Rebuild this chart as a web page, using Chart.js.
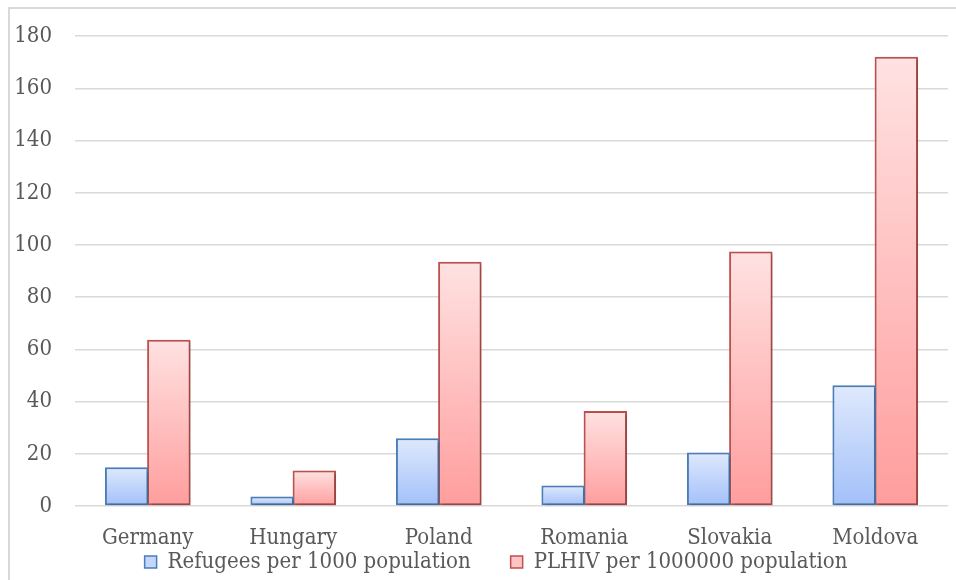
<!doctype html>
<html lang="en">
<head>
  <meta charset="utf-8" />
  <title>Refugees and PLHIV</title>
  <style>
    *{box-sizing:border-box}
    body{margin:0; background:#fff; width:956px; height:580px; overflow:hidden; position:relative}
    .frame{position:absolute; left:8px; top:7px; width:980px; height:600px; border:2px solid #d9d9d9}
    #c{position:absolute; left:0; top:0}
  </style>
  <script src="https://cdn.jsdelivr.net/npm/chart.js@4.4.1/dist/chart.umd.min.js"></script>
</head>
<body>
  <div class="frame"></div>
  <canvas id="c" width="956" height="580"></canvas>

<script>
const countries = ["Germany", "Hungary", "Poland", "Romania", "Slovakia", "Moldova"];
const refugees = [14.8, 3.6, 26.0, 7.9, 20.5, 46.3];
const plhiv = [63.7, 13.6, 93.6, 36.4, 97.5, 172.1];
const yTicks = [0, 20, 40, 60, 80, 100, 120, 140, 160, 180];

const FONT = "'DejaVu Serif Condensed', 'DejaVu Serif', serif";
const TEXT = "#595959";
const SIZE = 22;

// vertical gradient per bar, light at the top, darker at the base
const barFill = (top, bottom) => (ctx) => {
  const chart = ctx.chart, y = chart.scales.y;
  if (!y || ctx.raw == null) return bottom;
  const y0 = y.getPixelForValue(ctx.raw), y1 = y.getPixelForValue(0);
  if (!isFinite(y0) || !isFinite(y1) || y0 === y1) return bottom;
  const g = chart.ctx.createLinearGradient(0, y0, 0, y1);
  g.addColorStop(0, top); g.addColorStop(1, bottom);
  return g;
};

const shadow = {
  id: "shadow",
  beforeDatasetsDraw(chart){
    const c = chart.ctx; c.save();
    c.shadowColor = "rgba(0,0,0,0.28)"; c.shadowBlur = 3; c.shadowOffsetX = 1.5; c.shadowOffsetY = 1.5;
  },
  afterDatasetsDraw(chart){ chart.ctx.restore(); }
};

// wide gap between legend items, but keep the legend box short and placed like the original
const LEGEND_GAP = 40;
const legendPlace = {
  id: "legendPlace",
  beforeLayout(chart){
    const l = chart.legend;
    if (l && !l._short){
      const fit = l.fit.bind(l);
      l.fit = function(){ fit(); this.height = 29; };
      l._short = true;
    }
  },
  afterLayout(chart){
    const l = chart.legend; if (!l) return;
    l.left += 22; l.right += 22;
    l.top = 562 - LEGEND_GAP - SIZE / 2; l.bottom = 580;
  }
};

new Chart(document.getElementById("c"), {
  type: "bar",
  data: {
    labels: countries,
    datasets: [
      { label: "Refugees per 1000 population", data: refugees,
        backgroundColor: barFill("#dfe9fd", "#a2c0f9"), borderColor: "#4a7ebb", borderWidth: 2,
        borderSkipped: false },
      { label: "PLHIV per 1000000 population", data: plhiv,
        backgroundColor: barFill("#ffe2e2", "#ff9d9d"), borderColor: "#c0504d", borderWidth: 2,
        borderSkipped: false }
    ]
  },
  plugins: [shadow, legendPlace],
  options: {
    responsive: false, animation: false,
    layout: { padding: { left: 0, right: 8, top: 25, bottom: 0 } },
    categoryPercentage: 0.58, barPercentage: 1.03,
    plugins: {
      tooltip: { enabled: false },
      legend: {
        position: "bottom",
        labels: {
          boxWidth: 12, boxHeight: 12, padding: LEGEND_GAP, color: TEXT,
          font: { family: FONT, size: SIZE },
          generateLabels(chart){
            const fills = ["#c3d6fb", "#ffc4c4"];
            return chart.data.datasets.map((ds, i) => ({
              text: ds.label, fillStyle: fills[i], strokeStyle: ds.borderColor, fontColor: TEXT,
              lineWidth: 1.5, datasetIndex: i, hidden: false
            }));
          }
        }
      }
    },
    scales: {
      x: {
        afterFit(scale){ scale.height = 45; },
        grid: { display: false, drawTicks: false },
        border: { display: false },
        ticks: { color: TEXT, font: { family: FONT, size: SIZE }, padding: 19 }
      },
      y: {
        min: 0, max: 180,
        afterFit(scale){ scale.width = 75; },
        afterBuildTicks(scale){ scale.ticks = yTicks.map(v => ({ value: v })); },
        grid: { color: "#d9d9d9", lineWidth: 1.5, drawTicks: false },
        border: { display: false },
        ticks: { color: TEXT, font: { family: FONT, size: SIZE }, padding: 23 }
      }
    }
  }
});
</script>
</body>
</html>
